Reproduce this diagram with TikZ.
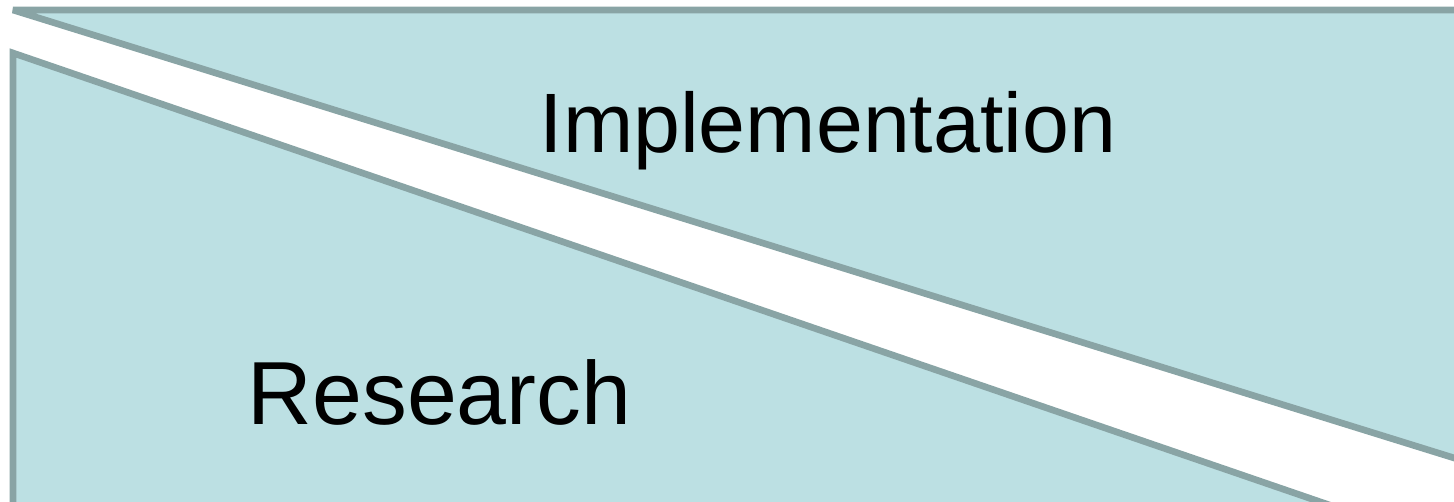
\documentclass[tikz,border=0pt]{standalone}
\usepackage{fontspec}
\setmainfont{Liberation Sans}
\usetikzlibrary{positioning}
\definecolor{paleteal}{HTML}{BCE0E3}
\definecolor{edgegrey}{HTML}{89A4A5}
\tikzset{
  % trianglar
  wedge/.style={fill=paleteal,draw=none},
  rim/.style={draw=edgegrey,line width=1.9pt,line join=miter},
  phase/.style={font=\fontsize{24}{28}\selectfont,inner sep=0pt,text=black},
}

\begin{document}
\begin{tikzpicture}[x=1cm,y=1cm]
\useasboundingbox (0,0) rectangle (14.54,5.01);
\clip (0,0) rectangle (14.54,5.01);
  % övre triangel
  \coordinate (ut) at (0.13,4.91);
  \coordinate (ur) at (14.80,4.91);
  \coordinate (ub) at (14.80,0.35);
  \fill[wedge] (ut) -- (ur) -- (ub) -- cycle;
  \draw[rim,line join=bevel] (ur) -- (ut) -- (ub);
  % nedre triangel
  \coordinate (lt) at (0.13,4.48);
  \coordinate (lb) at (0.13,-0.20);
  \coordinate (lr) at (13.76,-0.20);
  \fill[wedge] (lt) -- (lb) -- (lr) -- cycle;
  \draw[rim] (lb) -- (lt) -- (lr);
  % texter
  \node[phase,anchor=base] (impl) at (8.28,3.49) {Implementation};
  \node[phase,anchor=base west,font=\fontsize{25.5}{30}\selectfont] (res) at (2.47,0.77) {Research};
\end{tikzpicture}
\end{document}
